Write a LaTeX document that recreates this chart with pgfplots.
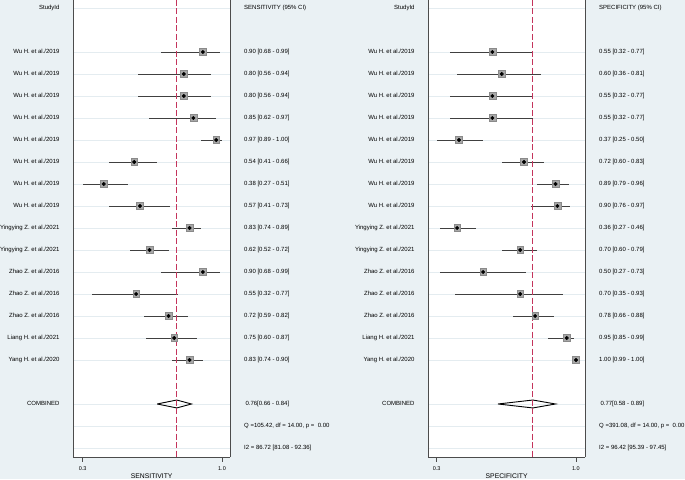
\documentclass[border=0pt]{standalone}
\usepackage{pgfplots}
\pgfplotsset{compat=1.18}
\usepackage{pgfplotstable}
\usepackage{fontspec}
\setmainfont{Liberation Sans}
\definecolor{bgc}{HTML}{EAF1F4}
\definecolor{gridc}{HTML}{E4ECF0}
\definecolor{dashc}{HTML}{C4345C}
\definecolor{sqc}{HTML}{A8A8A8}
\definecolor{sqd}{HTML}{8A8A8A}
\newcommand\fs{\fontsize{6}{7}\selectfont}

\pgfplotstableread{
row est lo hi
2 0.90 0.68 0.99
3 0.80 0.56 0.94
4 0.80 0.56 0.94
5 0.85 0.62 0.97
6 0.97 0.89 1.00
7 0.54 0.41 0.66
8 0.38 0.27 0.51
9 0.57 0.41 0.73
10 0.83 0.74 0.89
11 0.62 0.52 0.72
12 0.90 0.68 0.99
13 0.55 0.32 0.77
14 0.72 0.59 0.82
15 0.75 0.60 0.87
16 0.83 0.74 0.90
}\sens

\pgfplotstableread{
row est lo hi
2 0.55 0.32 0.77
3 0.60 0.36 0.81
4 0.55 0.32 0.77
5 0.55 0.32 0.77
6 0.37 0.25 0.50
7 0.72 0.60 0.83
8 0.89 0.79 0.96
9 0.90 0.76 0.97
10 0.36 0.27 0.46
11 0.70 0.60 0.79
12 0.50 0.27 0.73
13 0.70 0.35 0.93
14 0.78 0.66 0.88
15 0.95 0.85 0.99
16 1.00 0.99 1.00
}\spec

\tikzset{lab/.style={font=\fs, inner sep=0pt, text height=4.3pt, text depth=1.3pt}}

\newcommand\srow[5]{%
  \node[lab, anchor=east, xshift=-13.6pt] at (axis cs:#1,-#3) {#4};
  \node[lab, anchor=west, xshift=14pt] at (axis cs:#2,-#3) {#5};}

\pgfplotsset{fp/.style={
  scale only axis, width=156.7pt, height=457pt,
  ymin=-20.41, ymax=0.364,
  axis x line*=bottom, axis y line*=box,
  axis background/.style={fill=white},
  axis line style={black!70, line width=0.8pt},
  ytick={-20,-19,-18,-16,-15,-14,-13,-12,-11,-10,-9,-8,-7,-6,-5,-4,-3,-2,0},
  yticklabels={}, ytick style={draw=none},
  ymajorgrids, grid style={gridc, line width=0.5pt},
  xtick style={black!70, line width=0.7pt}, tick align=outside, major tick length=4.5pt,
  xticklabel style={font=\fontsize{5.5}{6}\selectfont, yshift=-2pt},
  /pgf/number format/assume math mode=true,
  clip=false,
}}

\begin{document}
\begin{tikzpicture}
\fill[bgc] (0,0) rectangle (685pt,-479pt);
\useasboundingbox (0,0) rectangle (685pt,-479pt);

% ---------------- Sensitivity ----------------
\begin{axis}[fp, at={(73.3pt,-457pt)}, anchor=south west,
  xmin=0.2207, xmax=1.042, xtick={0.27,1.0}, xticklabels={0.3,1.0}]
\addplot[only marks, mark=square*, mark size=3.4pt, mark options={fill=sqc, draw=sqd, line width=0.4pt},
  error bars/.cd, x dir=both, x explicit, error mark=none,
  error bar style={black!75, line width=0.6pt}]
  table[x=est, y expr=-\thisrow{row}, x error plus expr=\thisrow{hi}-\thisrow{est}, x error minus expr=\thisrow{est}-\thisrow{lo}] {\sens};
\addplot[black, line width=0.9pt] coordinates {(0.66,-18) (0.763,-17.82) (0.84,-18) (0.763,-18.18) (0.66,-18)};
\addplot[dashc, line width=1pt, dash pattern=on 6pt off 2.5pt] coordinates {(0.763,0.364) (0.763,-20.41)};
\addplot[only marks, mark=square*, mark size=3.4pt, mark options={fill=sqc, draw=sqd, line width=0.4pt}]
  table[x=est, y expr=-\thisrow{row}] {\sens};
\addplot[only marks, mark=*, mark size=1.8pt, mark options={fill=black, draw=black}]
  table[x=est, y expr=-\thisrow{row}] {\sens};
\srow{0.2207}{1.042}{0}{StudyId}{SENSITIVITY (95\% CI)}
\srow{0.2207}{1.042}{2}{Wu H. et al./2019}{0.90 [0.68 - 0.99]}
\srow{0.2207}{1.042}{3}{Wu H. et al./2019}{0.80 [0.56 - 0.94]}
\srow{0.2207}{1.042}{4}{Wu H. et al./2019}{0.80 [0.56 - 0.94]}
\srow{0.2207}{1.042}{5}{Wu H. et al./2019}{0.85 [0.62 - 0.97]}
\srow{0.2207}{1.042}{6}{Wu H. et al./2019}{0.97 [0.89 - 1.00]}
\srow{0.2207}{1.042}{7}{Wu H. et al./2019}{0.54 [0.41 - 0.66]}
\srow{0.2207}{1.042}{8}{Wu H. et al./2019}{0.38 [0.27 - 0.51]}
\srow{0.2207}{1.042}{9}{Wu H. et al./2019}{0.57 [0.41 - 0.73]}
\srow{0.2207}{1.042}{10}{Yingying Z. et al./2021}{0.83 [0.74 - 0.89]}
\srow{0.2207}{1.042}{11}{Yingying Z. et al./2021}{0.62 [0.52 - 0.72]}
\srow{0.2207}{1.042}{12}{Zhao Z. et al./2016}{0.90 [0.68 - 0.99]}
\srow{0.2207}{1.042}{13}{Zhao Z. et al./2016}{0.55 [0.32 - 0.77]}
\srow{0.2207}{1.042}{14}{Zhao Z. et al./2016}{0.72 [0.59 - 0.82]}
\srow{0.2207}{1.042}{15}{Liang H. et al./2021}{0.75 [0.60 - 0.87]}
\srow{0.2207}{1.042}{16}{Yang H. et al./2020}{0.83 [0.74 - 0.90]}
\srow{0.2207}{1.042}{18}{COMBINED}{\hspace{1.3pt}0.76[0.66 - 0.84]}
\srow{0.2207}{1.042}{19}{}{Q =105.42, df = 14.00, p = \ 0.00}
\srow{0.2207}{1.042}{20}{}{I2 = 86.72 [81.08 - 92.36]}
\node[font=\fontsize{6.8}{7}\selectfont, anchor=base, inner sep=0pt, yshift=-21pt] at (axis cs:0.6314,-20.41) {SENSITIVITY};
\end{axis}

% ---------------- Specificity ----------------
\begin{axis}[fp, at={(428.3pt,-457pt)}, anchor=south west,
  xmin=0.2048, xmax=1.0486, xtick={0.25,1.0}, xticklabels={0.3,1.0}]
\addplot[only marks, mark=square*, mark size=3.4pt, mark options={fill=sqc, draw=sqd, line width=0.4pt},
  error bars/.cd, x dir=both, x explicit, error mark=none,
  error bar style={black!75, line width=0.6pt}]
  table[x=est, y expr=-\thisrow{row}, x error plus expr=\thisrow{hi}-\thisrow{est}, x error minus expr=\thisrow{est}-\thisrow{lo}] {\spec};
\addplot[black, line width=0.9pt] coordinates {(0.58,-18) (0.768,-17.82) (0.89,-18) (0.768,-18.18) (0.58,-18)};
\addplot[dashc, line width=1pt, dash pattern=on 6pt off 2.5pt] coordinates {(0.768,0.364) (0.768,-20.41)};
\addplot[only marks, mark=square*, mark size=3.4pt, mark options={fill=sqc, draw=sqd, line width=0.4pt}]
  table[x=est, y expr=-\thisrow{row}] {\spec};
\addplot[only marks, mark=*, mark size=1.8pt, mark options={fill=black, draw=black}]
  table[x=est, y expr=-\thisrow{row}] {\spec};
\srow{0.2048}{1.0486}{0}{StudyId}{SPECIFICITY (95\% CI)}
\srow{0.2048}{1.0486}{2}{Wu H. et al./2019}{0.55 [0.32 - 0.77]}
\srow{0.2048}{1.0486}{3}{Wu H. et al./2019}{0.60 [0.36 - 0.81]}
\srow{0.2048}{1.0486}{4}{Wu H. et al./2019}{0.55 [0.32 - 0.77]}
\srow{0.2048}{1.0486}{5}{Wu H. et al./2019}{0.55 [0.32 - 0.77]}
\srow{0.2048}{1.0486}{6}{Wu H. et al./2019}{0.37 [0.25 - 0.50]}
\srow{0.2048}{1.0486}{7}{Wu H. et al./2019}{0.72 [0.60 - 0.83]}
\srow{0.2048}{1.0486}{8}{Wu H. et al./2019}{0.89 [0.79 - 0.96]}
\srow{0.2048}{1.0486}{9}{Wu H. et al./2019}{0.90 [0.76 - 0.97]}
\srow{0.2048}{1.0486}{10}{Yingying Z. et al./2021}{0.36 [0.27 - 0.46]}
\srow{0.2048}{1.0486}{11}{Yingying Z. et al./2021}{0.70 [0.60 - 0.79]}
\srow{0.2048}{1.0486}{12}{Zhao Z. et al./2016}{0.50 [0.27 - 0.73]}
\srow{0.2048}{1.0486}{13}{Zhao Z. et al./2016}{0.70 [0.35 - 0.93]}
\srow{0.2048}{1.0486}{14}{Zhao Z. et al./2016}{0.78 [0.66 - 0.88]}
\srow{0.2048}{1.0486}{15}{Liang H. et al./2021}{0.95 [0.85 - 0.99]}
\srow{0.2048}{1.0486}{16}{Yang H. et al./2020}{1.00 [0.99 - 1.00]}
\srow{0.2048}{1.0486}{18}{COMBINED}{\hspace{1.3pt}0.77[0.58 - 0.89]}
\srow{0.2048}{1.0486}{19}{}{Q =391.08, df = 14.00, p = \ 0.00}
\srow{0.2048}{1.0486}{20}{}{I2 = 96.42 [95.39 - 97.45]}
\node[font=\fontsize{6.8}{7}\selectfont, anchor=base, inner sep=0pt, yshift=-21pt] at (axis cs:0.6267,-20.41) {SPECIFICITY};
\end{axis}
\end{tikzpicture}
\end{document}
